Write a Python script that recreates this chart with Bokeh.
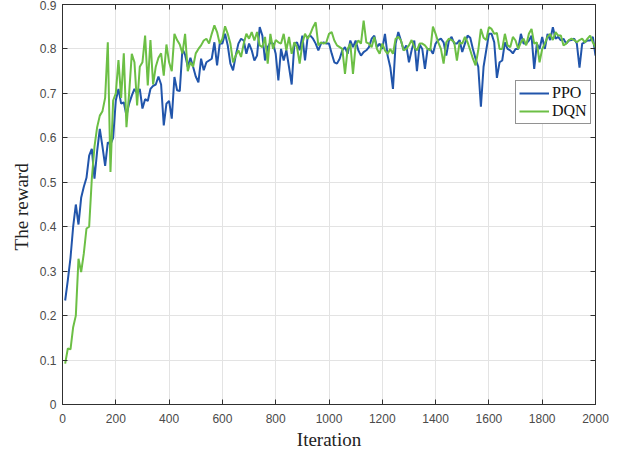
from bokeh.plotting import figure
from bokeh.models import (Range1d, LinearAxis, FixedTicker, CustomJSTickFormatter,
                          Legend, LegendItem, ColumnDataSource)
from bokeh.embed import file_html
from bokeh.resources import INLINE

iterations = list(range(10, 2001, 10))

ppo = [
    0.234, 0.28, 0.33, 0.40, 0.45, 0.405, 0.465, 0.49, 0.51, 0.56,
    0.575, 0.508, 0.57, 0.62, 0.58, 0.537, 0.59, 0.585, 0.60, 0.684,
    0.71, 0.677, 0.68, 0.65, 0.677, 0.695, 0.71, 0.70, 0.71, 0.666,
    0.687, 0.683, 0.71, 0.717, 0.72, 0.738, 0.72, 0.628, 0.677, 0.683,
    0.643, 0.737, 0.707, 0.705, 0.80, 0.787, 0.76, 0.78, 0.76, 0.738,
    0.725, 0.778, 0.752, 0.77, 0.774, 0.778, 0.815, 0.763, 0.812, 0.812,
    0.834, 0.808, 0.767, 0.752, 0.785, 0.812, 0.823, 0.819, 0.789, 0.812,
    0.797, 0.774, 0.785, 0.849, 0.83, 0.774, 0.804, 0.815, 0.812, 0.789,
    0.729, 0.80, 0.774, 0.797, 0.759, 0.72, 0.812, 0.815, 0.797, 0.83,
    0.774, 0.827, 0.83, 0.823, 0.812, 0.797, 0.812, 0.815, 0.812, 0.812,
    0.79, 0.77, 0.767, 0.778, 0.797, 0.804, 0.789, 0.819, 0.804, 0.819,
    0.797, 0.785, 0.793, 0.797, 0.804, 0.823, 0.83, 0.804, 0.812, 0.80,
    0.834, 0.785, 0.759, 0.71, 0.812, 0.838, 0.819, 0.797, 0.808, 0.77,
    0.797, 0.819, 0.75, 0.81, 0.80, 0.755, 0.80, 0.80, 0.789, 0.812,
    0.82, 0.823, 0.815, 0.785, 0.819, 0.827, 0.812, 0.812, 0.82, 0.793,
    0.812, 0.83, 0.825, 0.80, 0.778, 0.76, 0.67, 0.76, 0.797, 0.834,
    0.834, 0.815, 0.735, 0.77, 0.774, 0.815, 0.80, 0.797, 0.79, 0.80,
    0.80, 0.834, 0.812, 0.812, 0.819, 0.83, 0.755, 0.812, 0.80, 0.827,
    0.80, 0.834, 0.82, 0.849, 0.823, 0.827, 0.819, 0.823, 0.812, 0.819,
    0.82, 0.823, 0.812, 0.758, 0.812, 0.815, 0.819, 0.819, 0.827, 0.785,
]

dqn = [
    0.092, 0.126, 0.124, 0.174, 0.20, 0.328, 0.298, 0.34, 0.396, 0.40,
    0.508, 0.58, 0.624, 0.65, 0.66, 0.69, 0.815, 0.523, 0.684, 0.70,
    0.775, 0.69, 0.79, 0.624, 0.70, 0.789, 0.77, 0.673, 0.76, 0.77,
    0.83, 0.718, 0.82, 0.72, 0.76, 0.78, 0.79, 0.74, 0.81, 0.77,
    0.75, 0.834, 0.82, 0.81, 0.79, 0.834, 0.75, 0.77, 0.76, 0.79,
    0.80, 0.808, 0.819, 0.823, 0.812, 0.834, 0.853, 0.838, 0.812, 0.823,
    0.851, 0.834, 0.812, 0.77, 0.785, 0.797, 0.782, 0.812, 0.834, 0.823,
    0.838, 0.819, 0.838, 0.808, 0.804, 0.827, 0.767, 0.834, 0.80, 0.82,
    0.815, 0.812, 0.834, 0.797, 0.827, 0.789, 0.815, 0.804, 0.767, 0.812,
    0.834, 0.823, 0.834, 0.849, 0.86, 0.808, 0.815, 0.812, 0.815, 0.834,
    0.838, 0.819, 0.808, 0.804, 0.80, 0.744, 0.80, 0.812, 0.744, 0.808,
    0.819, 0.812, 0.864, 0.815, 0.812, 0.804, 0.827, 0.80, 0.789, 0.812,
    0.797, 0.789, 0.80, 0.789, 0.823, 0.827, 0.819, 0.797, 0.80, 0.808,
    0.82, 0.804, 0.797, 0.812, 0.812, 0.808, 0.80, 0.797, 0.85, 0.834,
    0.815, 0.80, 0.767, 0.815, 0.823, 0.82, 0.815, 0.774, 0.815, 0.812,
    0.827, 0.815, 0.797, 0.778, 0.763, 0.797, 0.845, 0.825, 0.82, 0.849,
    0.845, 0.834, 0.836, 0.80, 0.80, 0.834, 0.808, 0.804, 0.827, 0.819,
    0.80, 0.815, 0.823, 0.808, 0.834, 0.845, 0.812, 0.815, 0.77, 0.80,
    0.812, 0.827, 0.834, 0.82, 0.838, 0.83, 0.83, 0.808, 0.812, 0.82,
    0.823, 0.82, 0.815, 0.82, 0.823, 0.815, 0.823, 0.83, 0.815, 0.804,
]

x_ticks = list(range(0, 2001, 200))
y_ticks = [0, 0.1, 0.2, 0.3, 0.4, 0.5, 0.6, 0.7, 0.8, 0.9]
series_names = ["PPO", "DQN"]
series_colors = ["#2155ab", "#6cbf45"]

src = ColumnDataSource(dict(x=iterations, ppo=ppo, dqn=dqn))

p = figure(frame_width=533, frame_height=400, output_backend="svg",
           toolbar_location=None, x_range=Range1d(0, 2000), y_range=Range1d(0, 0.9),
           min_border_left=62, min_border_right=28, min_border_top=4,
           min_border_bottom=48, x_axis_label="Iteration", y_axis_label="The  reward")
p.background_fill_color = "white"
p.border_fill_color = "white"
p.outline_line_color = "#262626"
p.outline_line_width = 1

axis_color = "#303030"
label_color = "#4a4a4a"
for ax in (p.xaxis[0], p.yaxis[0]):
    ax.major_tick_in = 5
    ax.major_tick_out = 0
    ax.minor_tick_in = 0
    ax.minor_tick_out = 0
    ax.axis_line_color = axis_color
    ax.major_tick_line_color = axis_color
    ax.major_label_text_font = "Liberation Sans"
    ax.major_label_text_font_size = "12px"
    ax.major_label_text_color = label_color
    ax.axis_label_text_font = "Liberation Serif"
    ax.axis_label_text_font_size = "19px"
    ax.axis_label_text_font_style = "normal"
    ax.axis_label_text_color = "#222222"
    ax.major_label_standoff = 6

p.xaxis[0].ticker = FixedTicker(ticks=x_ticks)
p.yaxis[0].ticker = FixedTicker(ticks=y_ticks)
p.yaxis[0].formatter = CustomJSTickFormatter(code="return (Math.round(tick*10)/10).toString();")
p.xaxis[0].major_label_standoff = 9
p.xaxis[0].axis_label_standoff = 3
p.yaxis[0].axis_label_standoff = 5

blank = CustomJSTickFormatter(code="return '';")
top = LinearAxis(ticker=FixedTicker(ticks=x_ticks), formatter=blank, major_tick_in=5,
                 major_tick_out=0, minor_tick_in=0, minor_tick_out=0,
                 axis_line_color=axis_color, major_tick_line_color=axis_color,
                 major_label_standoff=0)
right = LinearAxis(ticker=FixedTicker(ticks=y_ticks), formatter=blank, major_tick_in=5,
                   major_tick_out=0, minor_tick_in=0, minor_tick_out=0,
                   axis_line_color=axis_color, major_tick_line_color=axis_color,
                   major_label_standoff=0)
p.add_layout(top, "above")
p.add_layout(right, "right")

p.xgrid.ticker = FixedTicker(ticks=x_ticks)
p.ygrid.ticker = FixedTicker(ticks=y_ticks)
p.grid.grid_line_color = "#e3e3e3"
p.grid.grid_line_width = 1

r1 = p.line("x", "ppo", source=src, line_color=series_colors[0], line_width=2)
r2 = p.line("x", "dqn", source=src, line_color=series_colors[1], line_width=2)

legend = Legend(items=[LegendItem(label=series_names[0], renderers=[r1]),
                       LegendItem(label=series_names[1], renderers=[r2])],
                location=(453, 280), orientation="vertical")
legend.label_text_font = "Liberation Serif"
legend.label_text_font_size = "16px"
legend.label_text_color = "#111111"
legend.glyph_width = 30
legend.glyph_height = 16
legend.label_height = 16
legend.label_standoff = 3
legend.spacing = 0
legend.padding = 3
legend.margin = 0
legend.border_line_color = "#262626"
legend.border_line_width = 1
legend.background_fill_color = "white"
legend.background_fill_alpha = 1
p.add_layout(legend, "center")

open("out.html", "w").write(file_html(p, INLINE))
